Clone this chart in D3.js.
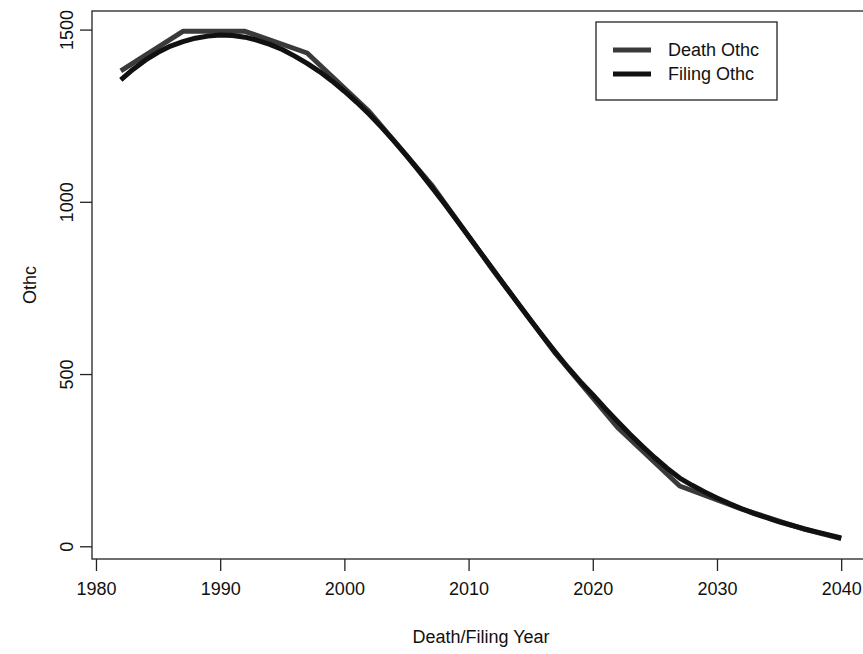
<!DOCTYPE html>
<html>
<head>
<meta charset="utf-8">
<script src="https://cdn.jsdelivr.net/npm/d3@7"></script>
<style>
  body { margin: 0; background: #fff; }
  text { font-family: "Liberation Sans", Arial, sans-serif; fill: #111; }
</style>
</head>
<body>
<script>
// yearly values
var filingYears = d3.range(1982, 2041);
var filingOthc = [1354, 1385, 1412, 1434, 1452, 1465, 1475, 1481, 1484, 1483,
                  1478, 1469, 1457, 1442, 1423, 1402, 1378, 1351, 1321, 1289,
                  1254, 1216, 1176, 1134, 1090, 1044, 997, 949, 900, 851,
                  802, 753, 704, 656, 609, 563, 519, 478, 440, 400,
                  362, 325, 290, 257, 226, 198, 177, 158, 140, 124,
                  109, 95, 83, 71, 61, 51, 42, 33, 24];
// death series only has 5-year points
var deathYears = [1982, 1987, 1992, 1997, 2002, 2007, 2012, 2017, 2022, 2027, 2032, 2037, 2040];
var deathOthc = [1380, 1495, 1495, 1432, 1262, 1050, 800, 560, 345, 175, 108, 50, 22];

var xTicks = [1980, 1990, 2000, 2010, 2020, 2030, 2040];
var yTicks = [0, 500, 1000, 1500];
var legendLabels = ["Death Othc", "Filing Othc"];

(function() {
  var W = 863, H = 654;
  var mL = 92, mR = 870, mT = 11, mB = 559;
  var fs = 18;

  var svg = d3.select("body").append("svg")
      .attr("width", W)
      .attr("height", H);

  // R style 4% padding on both axes
  var xlo = 1982, xhi = 2040, xp = (xhi - xlo) * 0.04;
  var ylo = 22, yhi = 1495, yp = (yhi - ylo) * 0.04;

  var x = d3.scaleLinear().domain([xlo - xp, xhi + xp]).range([mL, mR]);
  var y = d3.scaleLinear().domain([ylo - yp, yhi + yp]).range([mB, mT]);

  svg.append("rect")
      .attr("x", mL)
      .attr("y", mT)
      .attr("width", mR - mL)
      .attr("height", mB - mT)
      .attr("fill", "none")
      .attr("stroke", "#222")
      .attr("stroke-width", 1.3);

  var xAxis = svg.append("g")
      .attr("transform", "translate(0," + mB + ")")
      .call(d3.axisBottom(x).tickValues(xTicks).tickFormat(d3.format("d")).tickSize(12).tickPadding(11));
  xAxis.select(".domain").remove();
  xAxis.selectAll("line").attr("stroke", "#222").attr("stroke-width", 1.3);
  xAxis.selectAll("text").attr("font-size", fs).attr("fill", "#111")
      .style("font-family", "'Liberation Sans', Arial, sans-serif");

  var yAxis = svg.append("g")
      .attr("transform", "translate(" + mL + ",0)")
      .call(d3.axisLeft(y).tickValues(yTicks).tickFormat(d3.format("d")).tickSize(12).tickPadding(0));
  yAxis.select(".domain").remove();
  yAxis.selectAll("line").attr("stroke", "#222").attr("stroke-width", 1.3);
  yAxis.selectAll("text")
      .attr("font-size", fs).attr("fill", "#111")
      .style("font-family", "'Liberation Sans', Arial, sans-serif")
      .attr("text-anchor", "middle")
      .attr("x", 0).attr("dy", 0)
      .attr("transform", "translate(-19,0) rotate(-90)");

  svg.append("text")
      .attr("x", (mL + mR) / 2)
      .attr("y", 643)
      .attr("text-anchor", "middle")
      .attr("font-size", fs)
      .text("Death/Filing Year");

  svg.append("text")
      .attr("transform", "translate(36," + (mT + mB) / 2 + ") rotate(-90)")
      .attr("text-anchor", "middle")
      .attr("font-size", fs)
      .text("Othc");

  var line = d3.line()
      .x(function(d) { return x(d[0]); })
      .y(function(d) { return y(d[1]); });

  var deathPts = deathYears.map(function(yr, i) { return [yr, deathOthc[i]]; });
  var filingPts = filingYears.map(function(yr, i) { return [yr, filingOthc[i]]; });

  svg.append("path")
      .datum(deathPts)
      .attr("d", line)
      .attr("fill", "none")
      .attr("stroke", "#3a3a3a")
      .attr("stroke-width", 5)
      .attr("stroke-linejoin", "round");

  svg.append("path")
      .datum(filingPts)
      .attr("d", line)
      .attr("fill", "none")
      .attr("stroke", "#111")
      .attr("stroke-width", 5)
      .attr("stroke-linejoin", "round");

  // legend
  var lg = svg.append("g").attr("transform", "translate(596,22)");
  lg.append("rect")
      .attr("width", 181)
      .attr("height", 78)
      .attr("fill", "#fff")
      .attr("stroke", "#222")
      .attr("stroke-width", 1.3);
  var legendColors = ["#3a3a3a", "#111"];
  legendLabels.forEach(function(lab, i) {
    var ly = 28 + i * 24;
    lg.append("line")
        .attr("x1", 17).attr("x2", 55)
        .attr("y1", ly).attr("y2", ly)
        .attr("stroke", legendColors[i])
        .attr("stroke-width", 5);
    lg.append("text")
        .attr("x", 72)
        .attr("y", ly + 6)
        .attr("font-size", fs)
        .text(lab);
  });
})();
</script>
</body>
</html>
